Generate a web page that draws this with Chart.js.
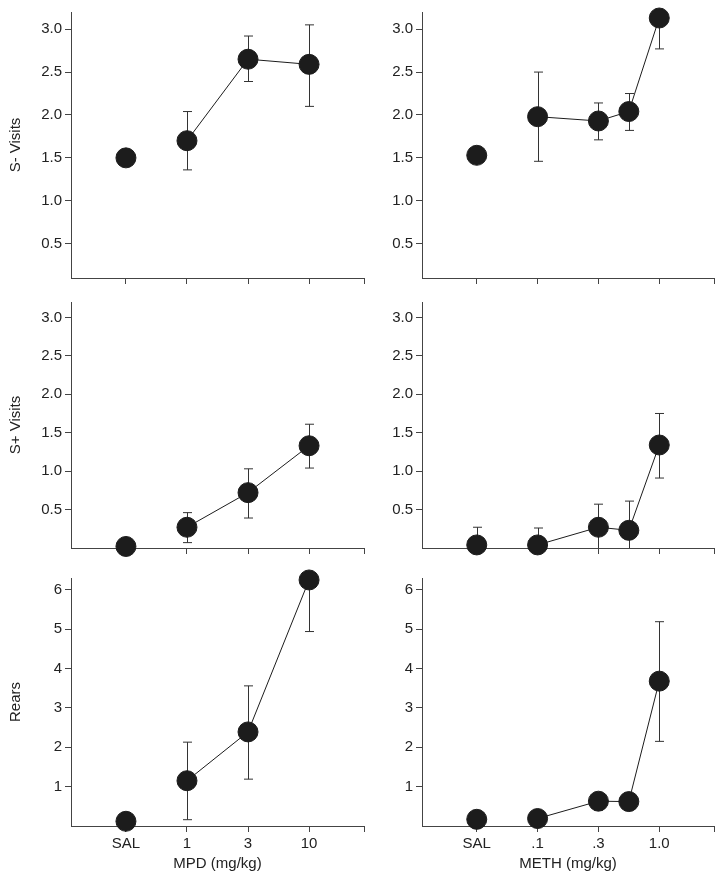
<!DOCTYPE html>
<html>
<head>
<meta charset="utf-8">
<script src="https://cdn.jsdelivr.net/npm/chart.js@4.4.0/dist/chart.umd.min.js"></script>
<style>
  html, body { margin: 0; padding: 0; background: #fff; }
  #wrap { position: relative; width: 727px; height: 881px; }
  .panel { position: absolute; }
</style>
</head>
<body>
<div id="wrap">
  <div class="panel" style="left:0;top:0"><canvas id="sMinusMpdChart" width="375" height="290"></canvas></div>
  <div class="panel" style="left:360px;top:0"><canvas id="sMinusMethChart" width="365" height="290"></canvas></div>
  <div class="panel" style="left:0;top:290px"><canvas id="sPlusMpdChart" width="375" height="270"></canvas></div>
  <div class="panel" style="left:360px;top:290px"><canvas id="sPlusMethChart" width="365" height="270"></canvas></div>
  <div class="panel" style="left:0;top:565px"><canvas id="rearsMpdChart" width="375" height="316"></canvas></div>
  <div class="panel" style="left:360px;top:565px"><canvas id="rearsMethChart" width="365" height="316"></canvas></div>
</div>
<script>
// dose positions on the x axis (SAL = 1)
const mpdDosePos = [1, 2, 3, 4];
const mpdTickPos = [1, 2, 3, 4];
const mpdTickLabels = ['SAL', '1', '3', '10'];
const methDosePos = [1, 2, 3, 3.5, 4];
const methTickPos = [1, 2, 3, 4];
const methTickLabels = ['SAL', '.1', '.3', '1.0'];

const visitTicks = [0.5, 1.0, 1.5, 2.0, 2.5, 3.0];
const rearTicks = [1, 2, 3, 4, 5, 6];

// S- visits
const sMinusMpd = [1.50, 1.70, 2.65, 2.59];
const sMinusMpdHi = [1.56, 2.04, 2.92, 3.05];
const sMinusMpdLo = [1.41, 1.36, 2.39, 2.10];
const sMinusMeth = [1.53, 1.98, 1.93, 2.04, 3.13];
const sMinusMethHi = [1.55, 2.50, 2.14, 2.25, 3.40];
const sMinusMethLo = [1.51, 1.46, 1.71, 1.82, 2.77];

// S+ visits
const sPlusMpd = [0.02, 0.27, 0.72, 1.33];
const sPlusMpdHi = [0.03, 0.46, 1.03, 1.61];
const sPlusMpdLo = [0.01, 0.07, 0.39, 1.04];
const sPlusMeth = [0.04, 0.04, 0.27, 0.23, 1.34];
const sPlusMethHi = [0.27, 0.26, 0.57, 0.61, 1.75];
const sPlusMethLo = [-0.2, -0.2, -0.1, -0.1, 0.91];

// Rears
const rearsMpd = [0.12, 1.15, 2.39, 6.25];
const rearsMpdHi = [0.13, 2.13, 3.56, 6.60];
const rearsMpdLo = [0.11, 0.16, 1.19, 4.94];
const rearsMeth = [0.17, 0.19, 0.63, 0.62, 3.68];
const rearsMethHi = [0.18, 0.20, 0.84, 0.72, 5.19];
const rearsMethLo = [0.16, 0.18, 0.40, 0.42, 2.15];

const FONT = 'Liberation Sans, Arial, Helvetica, sans-serif';
const INK = '#1c1c1c';
const AXIS = '#444';

// draws vertical error bars behind the markers, clipped to the plot area
const errorBars = {
  id: 'errorBars',
  beforeDatasetsDraw(chart, args, opts) {
    const { ctx, chartArea, scales: { x, y } } = chart;
    ctx.save();
    ctx.beginPath();
    ctx.rect(chartArea.left, chartArea.top, chartArea.width, chartArea.height);
    ctx.clip();
    ctx.strokeStyle = '#333';
    ctx.lineWidth = 1;
    opts.pos.forEach((p, i) => {
      const px = Math.round(x.getPixelForValue(p)) + 0.5;
      const yHi = y.getPixelForValue(opts.hi[i]);
      const yLo = y.getPixelForValue(opts.lo[i]);
      ctx.beginPath();
      ctx.moveTo(px, yHi); ctx.lineTo(px, yLo);
      ctx.moveTo(px - 4.5, yHi); ctx.lineTo(px + 4.5, yHi);
      ctx.moveTo(px - 4.5, yLo); ctx.lineTo(px + 4.5, yLo);
      ctx.stroke();
    });
    ctx.restore();
  }
};

function makePanel(id, cfg) {
  const pts = cfg.pos.map((p, i) => ({ x: p, y: cfg.values[i] }));
  const marker = {
    pointRadius: 10, pointHoverRadius: 10,
    pointBackgroundColor: INK, pointBorderColor: INK, pointBorderWidth: 1,
    borderColor: INK, borderWidth: 1, clip: false
  };
  new Chart(document.getElementById(id), {
    type: 'scatter',
    data: {
      datasets: [
        Object.assign({ data: pts.slice(0, 1), showLine: false }, marker),
        Object.assign({ data: pts.slice(1), showLine: true, tension: 0 }, marker)
      ]
    },
    options: {
      responsive: false,
      animation: false,
      events: [],
      layout: { padding: { top: cfg.padTop, right: 7, left: 0, bottom: 0 } },
      plugins: {
        legend: { display: false },
        tooltip: { enabled: false },
        errorBars: { pos: cfg.pos, hi: cfg.hi, lo: cfg.lo }
      },
      scales: {
        x: {
          type: 'linear', min: 0.1, max: 4.9,
          afterBuildTicks: s => { s.ticks = cfg.xTicks.concat([4.9]).map(v => ({ value: v })); },
          afterFit: s => { s.height = cfg.xHeight; },
          ticks: {
            display: !!cfg.xTitle, autoSkip: false, maxRotation: 0, padding: 3,
            color: '#222', font: { family: FONT, size: 15 },
            callback: (v, i) => cfg.xLabels[i] ?? ''
          },
          grid: { display: true, drawOnChartArea: false, drawTicks: true, tickLength: 6, color: AXIS },
          border: { display: true, color: AXIS, width: 1 },
          title: {
            display: !!cfg.xTitle, text: cfg.xTitle, color: '#222',
            font: { family: FONT, size: 15 }, padding: { top: 0, bottom: 8 }
          }
        },
        y: {
          min: cfg.yMin, max: cfg.yMax,
          afterBuildTicks: s => { s.ticks = cfg.yTicks.map(v => ({ value: v })); },
          afterFit: s => { s.width = cfg.yWidth; },
          ticks: {
            padding: 3, color: '#222', font: { family: FONT, size: 15 },
            callback: v => cfg.yFmt(v)
          },
          grid: { display: true, drawOnChartArea: false, drawTicks: true, tickLength: 6, color: AXIS },
          border: { display: true, color: AXIS, width: 1 },
          title: {
            display: !!cfg.yTitle, text: cfg.yTitle, color: '#222',
            font: { family: FONT, size: 15 }, padding: { top: 7, bottom: 0 }
          }
        }
      }
    },
    plugins: [errorBars]
  });
}

const oneDec = v => v.toFixed(1);
const whole = v => String(v);

makePanel('sMinusMpdChart', {
  pos: mpdDosePos, values: sMinusMpd, hi: sMinusMpdHi, lo: sMinusMpdLo,
  xTicks: mpdTickPos, xLabels: mpdTickLabels, xTitle: '', xHeight: 12,
  yMin: 0.1, yMax: 3.2, yTicks: visitTicks, yFmt: oneDec, yTitle: 'S- Visits', yWidth: 71, padTop: 10
});
makePanel('sMinusMethChart', {
  pos: methDosePos, values: sMinusMeth, hi: sMinusMethHi, lo: sMinusMethLo,
  xTicks: methTickPos, xLabels: methTickLabels, xTitle: '', xHeight: 12,
  yMin: 0.1, yMax: 3.2, yTicks: visitTicks, yFmt: oneDec, yTitle: '', yWidth: 62, padTop: 10
});
makePanel('sPlusMpdChart', {
  pos: mpdDosePos, values: sPlusMpd, hi: sPlusMpdHi, lo: sPlusMpdLo,
  xTicks: mpdTickPos, xLabels: mpdTickLabels, xTitle: '', xHeight: 11,
  yMin: 0, yMax: 3.2, yTicks: visitTicks, yFmt: oneDec, yTitle: 'S+ Visits', yWidth: 71, padTop: 12
});
makePanel('sPlusMethChart', {
  pos: methDosePos, values: sPlusMeth, hi: sPlusMethHi, lo: sPlusMethLo,
  xTicks: methTickPos, xLabels: methTickLabels, xTitle: '', xHeight: 11,
  yMin: 0, yMax: 3.2, yTicks: visitTicks, yFmt: oneDec, yTitle: '', yWidth: 62, padTop: 12
});
makePanel('rearsMpdChart', {
  pos: mpdDosePos, values: rearsMpd, hi: rearsMpdHi, lo: rearsMpdLo,
  xTicks: mpdTickPos, xLabels: mpdTickLabels, xTitle: 'MPD (mg/kg)', xHeight: 55,
  yMin: 0, yMax: 6.3, yTicks: rearTicks, yFmt: whole, yTitle: 'Rears', yWidth: 71, padTop: 13
});
makePanel('rearsMethChart', {
  pos: methDosePos, values: rearsMeth, hi: rearsMethHi, lo: rearsMethLo,
  xTicks: methTickPos, xLabels: methTickLabels, xTitle: 'METH (mg/kg)', xHeight: 55,
  yMin: 0, yMax: 6.3, yTicks: rearTicks, yFmt: whole, yTitle: '', yWidth: 62, padTop: 13
});
</script>
</body>
</html>
